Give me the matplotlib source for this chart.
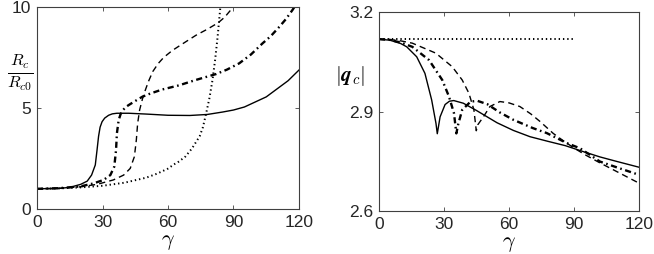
import numpy as np
import matplotlib
matplotlib.use("Agg")
import matplotlib.pyplot as plt

plt.rcParams['font.family'] = ['Liberation Sans', 'DejaVu Sans']
plt.rcParams['mathtext.fontset'] = 'cm'

# --- left panel: Rc/Rc0 vs gamma ---
gam_solid_L = [0, 10, 15, 20, 23, 25, 26.7, 27.5, 28.2, 28.9, 29.8, 31, 32.8, 34.5, 36.6, 42, 50,
               60, 70, 78, 85, 90, 95, 100, 105, 110, 115, 120]
rc_solid = [1, 1.02, 1.07, 1.22, 1.38, 1.68, 2.18, 2.92, 3.6, 4.05, 4.32, 4.5, 4.64, 4.71, 4.74,
            4.74, 4.70, 4.64, 4.63, 4.68, 4.8, 4.9, 5.05, 5.3, 5.55, 5.95, 6.35, 6.88]

gam_dashdot_L = [0, 10, 20, 26, 30.5, 33.6, 35.4, 36.2, 36.6, 37.4, 38.3, 39.4, 40.8, 42.5, 45.8,
                 48.3, 52, 57.5, 65, 72.8, 82, 87, 92.6, 98, 103.3, 107, 111, 114, 117, 118.5]
rc_dashdot = [1, 1.03, 1.12, 1.27, 1.44, 1.68, 2.1, 2.92, 3.75, 4.4, 4.7, 4.9, 5.06, 5.18, 5.4,
              5.56, 5.72, 5.92, 6.12, 6.39, 6.68, 6.9, 7.21, 7.65, 8.2, 8.55, 9.02, 9.4, 9.85, 10.1]

gam_dashed_L = [0, 10, 20, 27.5, 35, 39.7, 42.7, 44.6, 45.5, 46.1, 47, 48.3, 49.5, 51, 53, 55.5,
                58, 62, 67, 72.8, 78, 83, 86, 89.5, 91]
rc_dashed = [1, 1.02, 1.1, 1.22, 1.44, 1.68, 2.01, 2.59, 3.42, 4.24, 4.9, 5.45, 5.85, 6.3, 6.8,
             7.2, 7.5, 7.85, 8.2, 8.6, 8.9, 9.22, 9.5, 9.95, 10.1]

gam_dotted_L = [0, 10, 20, 30, 40, 50, 55, 60, 62.6, 65, 68, 71, 74.5, 76, 77.4, 79, 80.4, 81.6,
                82.7, 83.9, 84.6]
rc_dotted = [1, 1.02, 1.07, 1.15, 1.3, 1.55, 1.75, 2.0, 2.2, 2.35, 2.6, 3.0, 3.6, 4.05, 4.7, 5.5,
             6.4, 7.4, 8.5, 9.9, 10.8]

# --- right panel: |q_c| vs gamma ---
gam_dotted_R = [0, 90]
qc_dotted = [3.118, 3.118]

gam_solid_R = [0, 5, 10, 12.8, 17.4, 21.2, 24.3, 26.3, 26.9, 28.2, 30.5, 32.5, 34.5, 38.9, 45,
               54.5, 62, 69.7, 78, 86, 94.3, 102, 110, 120]
qc_solid = [3.118, 3.115, 3.105, 3.095, 3.065, 3.015, 2.935, 2.864, 2.833, 2.884, 2.921, 2.931,
            2.933, 2.925, 2.903, 2.866, 2.843, 2.824, 2.81, 2.797, 2.779, 2.763, 2.749, 2.732]

gam_dashdot_R = [0, 5, 10, 15.4, 23.1, 29.2, 32.3, 34.6, 35.7, 36.5, 38.4, 42.3, 45.5, 50, 55.8,
                 62, 71, 77.4, 86.6, 92.8, 102, 110, 120]
qc_dashdot = [3.118, 3.116, 3.108, 3.095, 3.055, 2.995, 2.945, 2.895, 2.834, 2.86, 2.905, 2.930,
              2.932, 2.922, 2.897, 2.875, 2.85, 2.835, 2.805, 2.789, 2.749, 2.731, 2.709]

gam_dashed_R = [0, 5, 10, 15.4, 26.2, 33.8, 38.4, 41.5, 43.8, 44.9, 45.6, 48.2, 51.2, 55.8, 60,
                65, 70, 74.3, 80.4, 85, 90, 95, 102, 109.7, 120]
qc_dashed = [3.118, 3.117, 3.113, 3.106, 3.076, 3.035, 2.995, 2.955, 2.905, 2.842, 2.86, 2.884,
             2.915, 2.93, 2.926, 2.915, 2.893, 2.87, 2.834, 2.812, 2.79, 2.77, 2.745, 2.719, 2.684]

# line styles (MATLAB-like)
st_solid = dict(color='k', lw=1.0, ls='-')
st_dashed = dict(color='k', lw=1.0, ls=(0, (4.5, 3)))
st_dashdot = dict(color='k', lw=1.7, ls=(0, (2.6, 1.5, 0.7, 1.5)))
st_dotted = dict(color='k', lw=1.4, ls=(0, (0.7, 1.5)))

fig = plt.figure(figsize=(6.54, 2.54), dpi=100)
ax1 = fig.add_axes([37 / 654, 45 / 254, 262 / 654, 202 / 254])
ax2 = fig.add_axes([379 / 654, 43 / 254, 260 / 654, 199 / 254])

ax1.plot(gam_dotted_L, rc_dotted, **st_dotted)
ax1.plot(gam_dashed_L, rc_dashed, **st_dashed)
ax1.plot(gam_dashdot_L, rc_dashdot, **st_dashdot)
ax1.plot(gam_solid_L, rc_solid, **st_solid)
ax1.set_xlim(0, 120)
ax1.set_ylim(0, 10)
ax1.set_xticks([0, 30, 60, 90, 120])
ax1.set_yticks([0, 5, 10])

ax2.plot(gam_dotted_R, qc_dotted, **st_dotted)
ax2.plot(gam_dashed_R, qc_dashed, **st_dashed)
ax2.plot(gam_dashdot_R, qc_dashdot, **st_dashdot)
ax2.plot(gam_solid_R, qc_solid, **st_solid)
ax2.set_xlim(0, 120)
ax2.set_ylim(2.6, 3.2)
ax2.set_xticks([0, 30, 60, 90, 120])
ax2.set_yticks([2.6, 2.9, 3.2])
ax2.set_yticklabels(['2.6', '2.9', '3.2'])

for ax in (ax1, ax2):
    for sp in ax.spines.values():
        sp.set_color('#404040')
        sp.set_linewidth(0.8)
    ax.tick_params(direction='in', length=3, width=0.6, color='#404040',
                   top=True, right=True, labelsize=12.5, pad=4, labelcolor='#262626')
    ax.set_xlabel(r'$\gamma$', fontsize=16, labelpad=1)

ax1.text(-0.065, 0.673, r'$\frac{R_c}{R_{c0}}$', transform=ax1.transAxes,
         fontsize=17, ha='center', va='center')
ax2.text(-0.11, 0.68, r'$|\boldsymbol{q}_c|$', transform=ax2.transAxes,
         fontsize=15, ha='center', va='center')

fig.savefig('out.png', dpi=100)
